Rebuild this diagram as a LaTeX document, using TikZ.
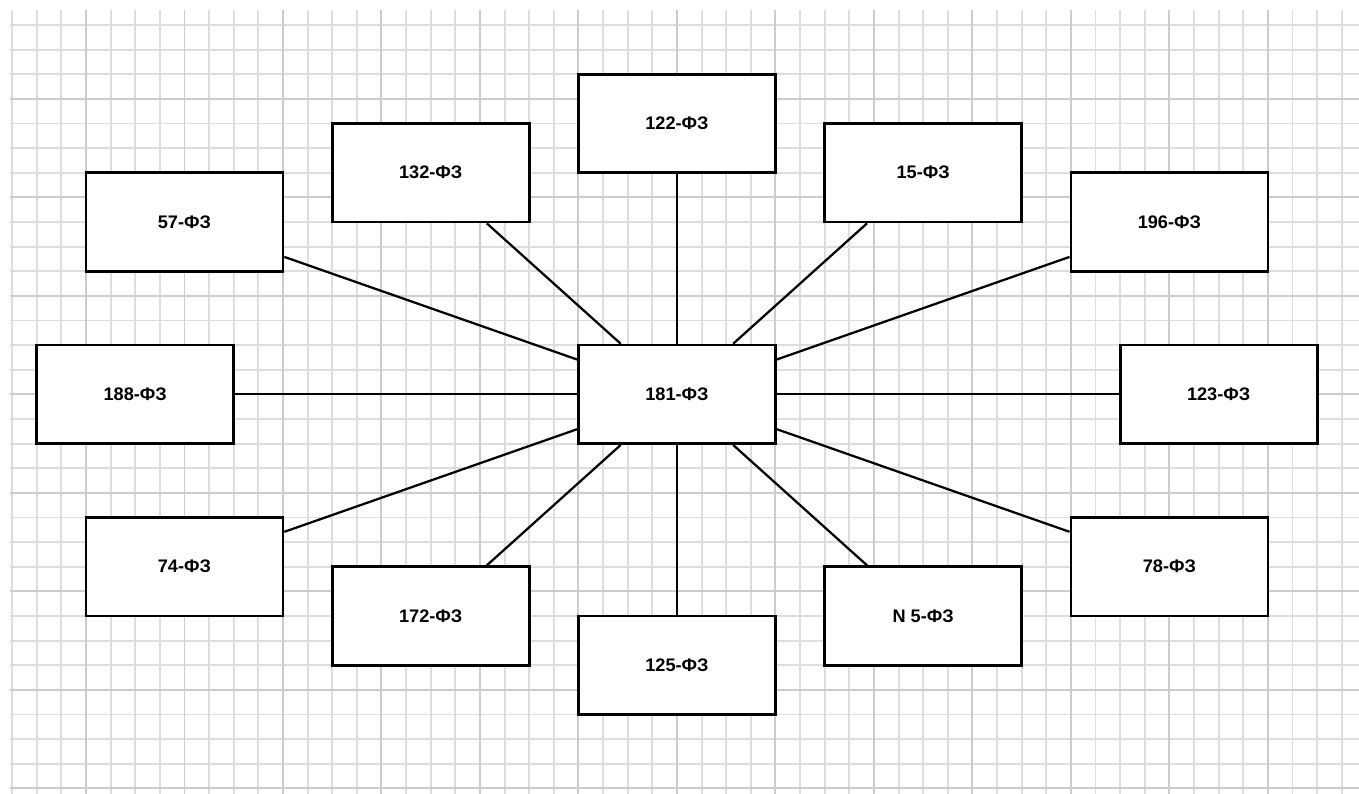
\documentclass[tikz,border=0pt]{standalone}
\usepackage{fontspec}
\setmainfont{Liberation Sans}
\usetikzlibrary{positioning}

\begin{document}
\begin{tikzpicture}[x=0.5cm, y=-0.5cm,
		gridline/.style={gray!27, line width=1.1pt},
		gridmajor/.style={gray!40, line width=1.1pt},
		box/.style={draw, line width=1.6pt, fill=white, minimum width=4cm, minimum height=2cm, font=\bfseries\fontsize{10.5}{12}\selectfont},
		link/.style={line width=1.3pt}]
				\useasboundingbox (-0.491,-1.015) rectangle (54.70,31.23);
				\foreach \i in {0,...,54} \draw[gridline] (\i,-0.61) -- (\i,31.23);
				\foreach \j in {0,...,31} \draw[gridline] (-0.085,\j) -- (54.70,\j);
				\foreach \i in {3,7,...,51} \draw[gridmajor] (\i,-0.61) -- (\i,31.23);
				\foreach \j in {3,7,...,31} \draw[gridmajor] (-0.085,\j) -- (54.70,\j);
				\node[box] (fz181) at (27,15) {181-ФЗ};
				\node[box] (fz122) at (27,4) {122-ФЗ};
				\node[box] (fz132) at (17,6) {132-ФЗ};
				\node[box] (fz15) at (37,6) {15-ФЗ};
				\node[box] (fz57) at (7,8) {57-ФЗ};
				\node[box] (fz196) at (47,8) {196-ФЗ};
				\node[box] (fz188) at (5,15) {188-ФЗ};
				\node[box] (fz123) at (49,15) {123-ФЗ};
				\node[box] (fz74) at (7,22) {74-ФЗ};
				\node[box] (fz78) at (47,22) {78-ФЗ};
				\node[box] (fz172) at (17,24) {172-ФЗ};
				\node[box] (fzN5) at (37,24) {N 5-ФЗ};
				\node[box] (fz125) at (27,26) {125-ФЗ};
				\foreach \n in {fz122,fz132,fz15,fz57,fz196,fz188,fz123,fz74,fz78,fz172,fzN5,fz125}
					\draw[link] (fz181) -- (\n);
			\end{tikzpicture}
\end{document}
